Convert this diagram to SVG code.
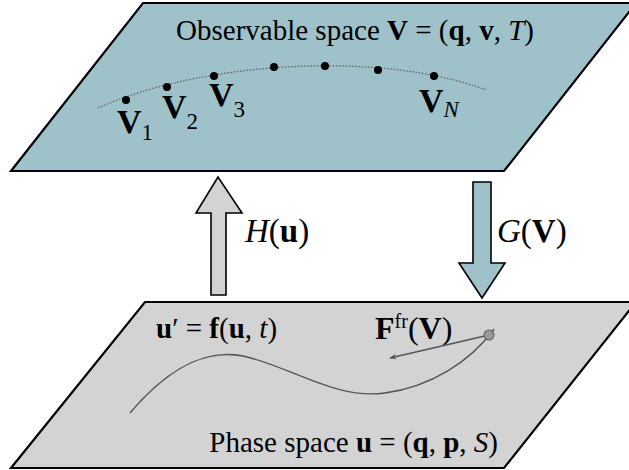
<svg xmlns="http://www.w3.org/2000/svg" width="629" height="470" viewBox="0 0 629 470">
<defs>
<style>
.plane{stroke:#000;stroke-width:2.2;stroke-linejoin:miter}
.t{font-family:"Liberation Serif","Times New Roman",serif;fill:#000}
.b{font-weight:bold}
.i{font-style:italic}
.traj{fill:none;stroke:#555;stroke-width:1.4}
.dot{fill:#000}
.big{stroke:#000;stroke-width:1.6;stroke-linejoin:miter}
</style>
<marker id="ah" viewBox="0 0 10 10" refX="9" refY="5" markerWidth="7" markerHeight="7" orient="auto" markerUnits="userSpaceOnUse">
<path d="M0,1 L10,5 L0,9 L3,5 Z" fill="#555"/>
</marker>
</defs>
<rect width="629" height="470" fill="#fff"/>

<g id="observable-plane">
<polygon class="plane" points="143,3 636,3 504,171 11,171" fill="#9fc2ca"/>
<text class="t" x="355" y="40" font-size="29" text-anchor="middle">Observable space <tspan class="b">V</tspan> = (<tspan class="b">q</tspan>, <tspan class="b">v</tspan>, <tspan class="i">T</tspan>)</text>
<path d="M98,108 C200,62 380,50 486,90" fill="none" stroke="#666" stroke-width="1.3" stroke-dasharray="1.6,1.6"/>
<circle class="dot" cx="126" cy="100" r="4"/>
<circle class="dot" cx="167" cy="87" r="4"/>
<circle class="dot" cx="214" cy="76" r="4"/>
<circle class="dot" cx="274" cy="67" r="4"/>
<circle class="dot" cx="325" cy="66" r="4"/>
<circle class="dot" cx="378" cy="70" r="4"/>
<circle class="dot" cx="434" cy="76" r="4"/>
<text class="t" x="117" y="133" font-size="34"><tspan class="b">V</tspan><tspan font-size="23" dy="7">1</tspan></text>
<text class="t" x="162" y="118" font-size="34"><tspan class="b">V</tspan><tspan font-size="23" dy="11">2</tspan></text>
<text class="t" x="209" y="106" font-size="34"><tspan class="b">V</tspan><tspan font-size="23" dy="11">3</tspan></text>
<text class="t" x="419" y="112" font-size="34"><tspan class="b">V</tspan><tspan class="i" font-size="23" dy="5">N</tspan></text>
</g>

<g id="phase-plane">
<polygon class="plane" points="145,302 636,302 504,468 11,468" fill="#d3d3d3"/>
<text class="t" x="156" y="338" font-size="29"><tspan class="b">u</tspan>′ = <tspan class="b">f</tspan>(<tspan class="b">u</tspan>, <tspan class="i">t</tspan>)</text>
<text class="t" x="375" y="339" font-size="32"><tspan class="b">F</tspan><tspan font-size="20" dy="-11">fr</tspan><tspan dy="11">(</tspan><tspan class="b">V</tspan>)</text>
<text class="t" x="498" y="452" font-size="29" text-anchor="end">Phase space <tspan class="b">u</tspan> = (<tspan class="b">q</tspan>, <tspan class="b">p</tspan>, <tspan class="i">S</tspan>)</text>
<path class="traj" d="M130,413 C175,360 212,350 243,356 C290,366 335,400 385,393 C430,387 470,362 494,329"/>
<line class="traj" x1="489" y1="335" x2="390" y2="358" marker-end="url(#ah)"/>
<circle cx="489" cy="335" r="5" fill="#999" stroke="#666" stroke-width="1.2"/>
</g>

<g id="connectors">
<g id="H-arrow">
<polygon class="big" points="211,295 226,295 226,213 242,213 218,177 196,213 211,213" fill="#d3d3d3"/>
<text class="t" x="245" y="242" font-size="33"><tspan class="i">H</tspan>(<tspan class="b">u</tspan>)</text>
</g>
<g id="G-arrow">
<polygon class="big" points="473,182 491,182 491,263 505,263 482,298 459,263 473,263" fill="#9fc2ca"/>
<text class="t" x="497" y="242" font-size="33"><tspan class="i">G</tspan>(<tspan class="b">V</tspan>)</text>
</g>
</g>
</svg>
